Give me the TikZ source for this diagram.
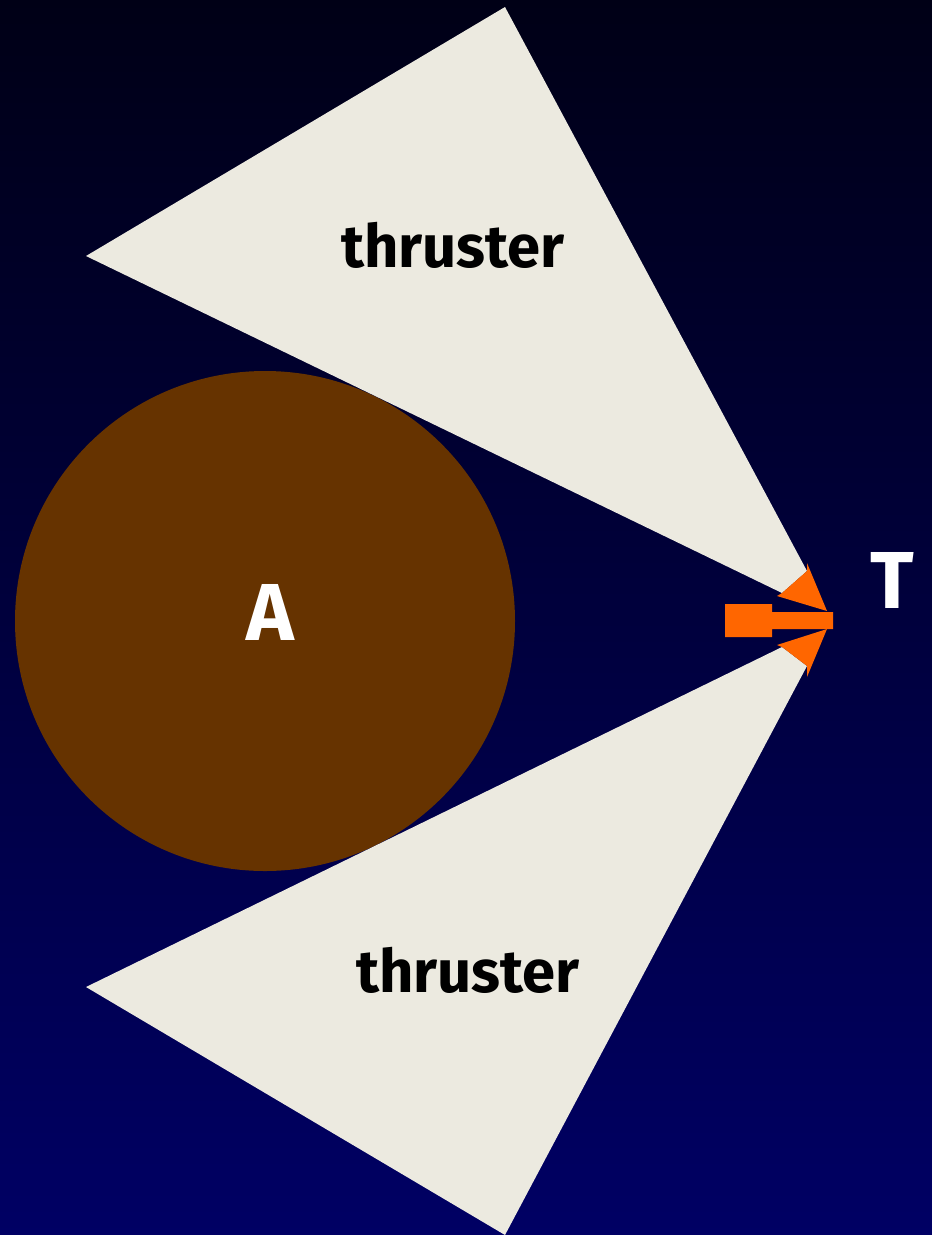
\documentclass[tikz,border=0pt]{standalone}
\usepackage{fontspec}
\setmainfont{Fira Sans}
\usepackage{tikz}
\usetikzlibrary{calc}

\definecolor{skytop}{RGB}{0,0,22}
\definecolor{skybot}{RGB}{0,0,100}
\definecolor{plume}{RGB}{236,234,224}
\definecolor{rock}{RGB}{102,51,0}
\definecolor{push}{RGB}{255,102,0}

\tikzset{
    conelabel/.style={font=\bfseries\fontsize{34}{34}\selectfont, text=black},
    bodylabel/.style={font=\bfseries\fontsize{46}{46}\selectfont, text=white}
}

\begin{document}
\begin{tikzpicture}[x=0.02cm, y=-0.02cm]
    % 1. Nền
    \shade[top color=skytop, bottom color=skybot] (0,0) rectangle (932,1235);
    \useasboundingbox (0,0) rectangle (932,1235);

    % 2. Thiên thể A
    \fill[rock] (265,621) circle[radius=250];
    \node[bodylabel] (bodyA) at (270,612) {A};

    % 3. Hai luồng phụt
    \fill[plume] (86,256) -- (505,7) -- (807,571) -- (782,593) -- cycle;
    \fill[plume] (86,987) -- (505,1235) -- (807,666) -- (782,647) -- cycle;
    \node[conelabel] (upperlab) at (453,245) {thruster};
    \node[conelabel] (lowerlab) at (468,970) {thruster};

    % 4. Mũi tên lực đẩy
    \fill[push] (807,563) -- (827,611) -- (777,596) -- (782,593) -- (807,571) -- cycle;
    \fill[push] (807,677) -- (827,629) -- (777,645) -- (782,647) -- (807,666) -- cycle;
    \fill[push] (725,604) -- (772,604) -- (772,612) -- (833,612) -- (833,629)
        -- (772,629) -- (772,637) -- (725,637) -- cycle;
    \node[bodylabel] (thrustT) at (892,580) {T};
\end{tikzpicture}
\end{document}
